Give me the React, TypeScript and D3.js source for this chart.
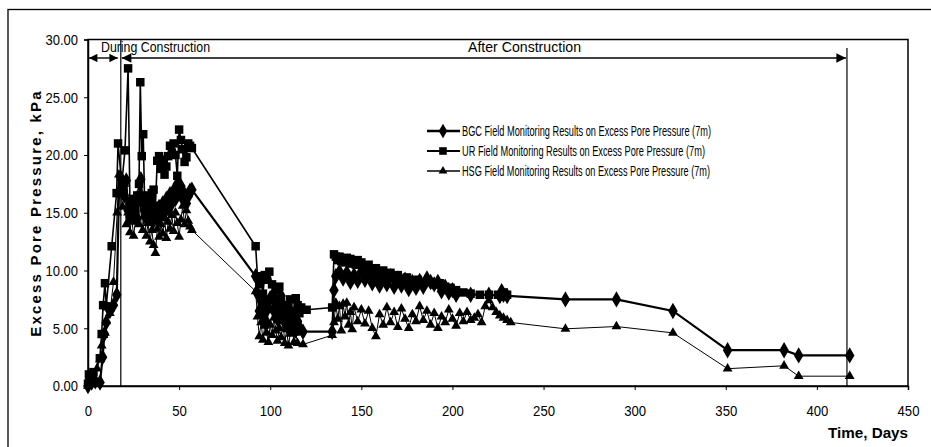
import React, { useEffect, useRef } from "react";
import * as d3 from "d3";

// [day, kPa] readings per gauge
const bgcData: [number, number][] = [
  [0, 0], [1, 0.6], [2, 0.3], [4, 0.4], [6.6, 0.3], [8, 2.5], [9, 4.5], [10, 5.5], [12, 6.5], [14, 7.0], [15.8, 7.9],
  [17, 16.8], [18, 18.0], [19, 17.2], [20, 16.5], [21, 17.8], [22, 15.2], [23, 14.6], [24, 15.4], [25, 14.8], [26, 15.9],
  [27, 14.5], [28, 16.2], [29, 17.9], [30, 16.0], [31, 15.2], [32, 14.5], [33, 15.5], [34, 14.8], [35, 15.6], [36, 14.3],
  [37, 15.0], [38, 14.4], [39, 15.5], [40, 14.8], [41, 15.8], [42, 15.0], [43, 16.2], [44, 15.4], [45, 16.6], [46, 15.8],
  [47, 16.9], [48, 16.2], [49, 17.5], [50, 16.8], [51, 17.3], [52, 16.2], [53, 16.6], [54, 15.8], [55, 16.4], [56, 16.9],
  [57, 17.0],
  [92, 9.5], [93, 8.0], [94, 6.5], [95, 7.4], [96, 6.0], [97, 7.2], [98, 5.5], [99, 6.8], [100, 7.6], [101, 7.7],
  [102, 6.5], [103, 7.2], [104, 5.8], [105, 6.9], [106, 7.8], [107, 6.3], [108, 5.5], [109, 6.6], [110, 5.0], [111, 6.2],
  [112, 5.4], [113, 6.0], [114, 4.8], [115, 5.6], [116, 5.1], [118, 4.7], [134, 4.7],
  [135, 8.3], [136, 9.5], [138, 9.9], [140, 9.3], [142, 9.8], [144, 9.0], [146, 9.6], [148, 9.1], [150, 9.9], [152, 9.2],
  [154, 9.7], [156, 8.9], [158, 9.5], [160, 8.7], [162, 9.4], [164, 8.8], [166, 9.5], [168, 8.6], [170, 9.3], [172, 8.7],
  [174, 9.2], [176, 8.4], [178, 9.0], [180, 8.5], [182, 9.1], [184, 8.6], [186, 9.3], [188, 9.0], [190, 8.8], [192, 9.0],
  [194, 8.2], [196, 8.6], [198, 8.1], [200, 8.3], [202, 7.9], [210, 7.9], [220, 7.9], [226, 7.8], [227, 8.2], [228, 7.9],
  [230, 7.8], [262, 7.5], [290, 7.5], [321, 6.5], [351, 3.1], [382, 3.1], [390, 2.65], [418, 2.65],
];

const urData: [number, number][] = [
  [0, 0.2], [0.5, 1.0], [1, 0.5], [3, 1.2], [6.5, 2.4], [7.5, 4.5], [8.3, 7.0], [9.3, 8.9], [10, 6.9], [13, 12.1],
  [15.7, 16.7], [16.5, 21.0], [18.5, 17.5], [20.3, 20.4], [22, 27.5], [23, 16.0], [24, 15.5], [25, 16.2], [26, 15.3],
  [27, 16.5], [28, 17.5], [28.7, 26.3], [29.5, 19.9], [30.3, 21.8], [31, 16.5], [32, 15.8], [33, 15.5], [34, 16.0],
  [35, 16.7], [36, 17.0], [37, 15.6], [38, 19.5], [39, 19.9], [40, 18.8], [41, 19.6], [42, 18.3], [43, 19.0], [44, 19.9],
  [45, 20.8], [46, 20.2], [47, 21.0], [48, 20.0], [49, 18.2], [50, 22.2], [51, 21.3], [52, 20.5], [53, 19.4], [54, 19.8],
  [55, 21.0], [56, 20.8], [57, 20.6],
  [92, 12.1], [93, 9.5], [94, 8.8], [95, 9.3], [96, 8.0], [97, 9.6], [98, 9.2], [99.5, 9.9], [101, 8.8], [102, 7.5],
  [103, 8.3], [104, 7.0], [105, 8.6], [106, 7.3], [107, 6.5], [108, 7.0], [109, 5.8], [110, 6.8], [111, 7.5], [112, 6.2],
  [113, 6.5], [114, 7.6], [115, 7.0], [116, 6.3], [117, 6.8], [120, 6.6], [134, 6.8],
  [135, 11.4], [136, 11.2], [137, 10.9], [138, 11.2], [139, 10.8], [140, 11.0], [141, 10.7], [142, 11.1], [143, 10.8],
  [144, 11.0], [145, 10.6], [146, 10.8], [147, 10.5], [148, 10.9], [149, 10.5], [150, 10.7], [152, 10.3], [154, 10.5],
  [156, 10.0], [158, 10.2], [160, 9.8], [162, 10.0], [164, 9.6], [166, 9.8], [168, 9.4], [170, 9.6], [172, 9.3],
  [175, 9.4], [178, 9.1], [181, 9.2], [184, 8.9], [187, 9.0], [190, 8.8], [193, 8.9], [196, 8.6], [199, 8.5], [202, 8.3],
  [206, 8.1], [210, 8.0], [215, 7.9], [220, 7.9], [225, 7.9], [228, 8.1], [230, 7.9],
];

const hsgData: [number, number][] = [
  [0, 0], [1, 0.3], [3, 0.8], [5, 1.5], [6.6, 2.3], [7.5, 3.5], [8.5, 4.4], [9.3, 4.6], [10, 5.6], [12, 6.3], [14, 9.0],
  [16, 15.0], [17, 18.3], [18, 16.6], [19, 15.5], [20, 17.5], [21, 14.0], [22, 15.0], [23, 13.3], [24, 14.6], [25, 13.0],
  [26, 14.2], [27, 16.5], [28, 14.0], [29, 15.8], [30, 13.5], [31, 14.8], [32, 13.0], [33, 14.1], [34, 12.5], [35, 13.5],
  [36, 12.2], [37, 11.5], [38, 13.6], [39, 12.9], [40, 14.0], [41, 13.2], [42, 14.5], [43, 12.8], [44, 14.2], [45, 13.6],
  [46, 14.8], [47, 13.4], [48, 15.0], [49, 14.1], [50, 12.9], [51, 14.4], [52, 15.6], [53, 14.0], [54, 15.2], [55, 14.3],
  [56, 13.8], [57, 13.5],
  [92, 8.2], [93, 6.0], [94, 4.3], [95, 5.5], [96, 4.0], [97, 5.2], [98, 4.6], [99, 3.8], [100, 5.3], [101, 4.4],
  [102, 5.9], [103, 4.8], [104, 3.9], [105, 5.0], [106, 4.2], [107, 5.6], [108, 3.7], [109, 4.9], [110, 3.5], [111, 4.5],
  [112, 5.2], [113, 3.8], [114, 4.6], [115, 3.7], [118, 3.6], [134, 4.4],
  [135, 5.5], [136, 7.2], [137, 5.8], [138, 6.9], [139, 4.8], [140, 7.1], [141, 6.0], [142, 7.2], [143, 5.3], [144, 6.4],
  [145, 4.9], [146, 6.8], [148, 5.6], [150, 6.6], [152, 5.4], [154, 6.5], [156, 5.0], [158, 4.3], [160, 6.2], [162, 5.3],
  [164, 6.8], [166, 5.5], [168, 6.4], [170, 5.1], [172, 6.7], [174, 5.8], [176, 5.0], [178, 6.2], [180, 5.6], [182, 6.9],
  [184, 5.7], [186, 6.5], [188, 5.3], [190, 6.3], [192, 5.0], [194, 6.0], [196, 5.5], [198, 6.6], [200, 5.8], [202, 5.2],
  [204, 6.3], [206, 5.6], [208, 6.4], [210, 5.7], [212, 5.9], [214, 6.2], [216, 5.5], [218, 6.9], [220, 7.4], [222, 6.8],
  [224, 6.4], [226, 6.1], [228, 5.9], [230, 5.7], [232, 5.5], [262, 4.95], [290, 5.15], [321, 4.6], [351, 1.5],
  [382, 1.75], [390, 0.85], [418, 0.85],
];

const xTicks = [0, 50, 100, 150, 200, 250, 300, 350, 400, 450];
const yTicks = [0, 5, 10, 15, 20, 25, 30];
const legendLabels = [
  "BGC Field Monitoring Results on Excess Pore Pressure (7m)",
  "UR Field Monitoring Results on Excess Pore Pressure (7m)",
  "HSG Field Monitoring Results on Excess Pore Pressure (7m)",
];
const constructionEnd = 18;
const monitoringEnd = 416.5;

const W = 931;
const H = 447;
const sans = "'Liberation Sans', Arial, sans-serif";

// squeeze a label to the narrow look of the original
const narrowWidth = (s: string) =>
  s.split("").reduce((w, c) => w + (c === "." ? 3.4 : 7.3), 0);

export default function App() {
  const ref = useRef<SVGSVGElement>(null);

  useEffect(() => {
    const svg = d3.select(ref.current);
    svg.selectAll("*").remove();

    const x = d3.scaleLinear().domain([0, 450]).range([88, 908]);
    const y = d3.scaleLinear().domain([0, 30]).range([386, 39.5]);

    // outer frame
    svg.append("rect").attr("x", 8).attr("y", 9.5).attr("width", 940).attr("height", 460)
      .attr("fill", "none").attr("stroke", "#000").attr("stroke-width", 1.3);

    // plot frame
    svg.append("rect").attr("x", x(0)).attr("y", y(30)).attr("width", x(450) - x(0)).attr("height", y(0) - y(30))
      .attr("fill", "none").attr("stroke", "#000").attr("stroke-width", 1.5);

    // axes
    const xAxis = svg.append("g").attr("transform", `translate(0,${y(0)})`)
      .call(d3.axisBottom(x).tickValues(xTicks).tickSize(4).tickPadding(15).tickFormat(d3.format("d")));
    const yAxis = svg.append("g").attr("transform", `translate(${x(0)},0)`)
      .call(d3.axisLeft(y).tickValues(yTicks).tickSize(4).tickPadding(6).tickFormat(d3.format(".2f")));
    [xAxis, yAxis].forEach((g) => {
      g.select(".domain").attr("stroke-width", 1.5);
      g.selectAll<SVGTextElement, number>("text")
        .attr("font-family", sans).attr("font-size", 15).attr("fill", "#000")
        .attr("lengthAdjust", "spacingAndGlyphs")
        .attr("textLength", function () { return narrowWidth(this.textContent || ""); });
    });

    // construction phase markers
    const defs = svg.append("defs");
    defs.append("marker").attr("id", "ah").attr("viewBox", "0 0 10 10").attr("refX", 10).attr("refY", 5)
      .attr("markerWidth", 7).attr("markerHeight", 6).attr("orient", "auto-start-reverse")
      .append("path").attr("d", "M0,0 L10,5 L0,10 z").attr("fill", "#000");

    svg.append("line").attr("x1", x(constructionEnd)).attr("x2", x(constructionEnd))
      .attr("y1", y(30)).attr("y2", y(0)).attr("stroke", "#000").attr("stroke-width", 1.2);
    svg.append("line").attr("x1", x(monitoringEnd)).attr("x2", x(monitoringEnd))
      .attr("y1", 48).attr("y2", y(0)).attr("stroke", "#000").attr("stroke-width", 1.2);

    svg.append("line").attr("x1", x(0) + 1).attr("x2", x(constructionEnd) - 3).attr("y1", 58).attr("y2", 58)
      .attr("stroke", "#000").attr("stroke-width", 1.4)
      .attr("marker-start", "url(#ah)").attr("marker-end", "url(#ah)");
    svg.append("line").attr("x1", x(constructionEnd) + 1).attr("x2", x(monitoringEnd) - 1).attr("y1", 58).attr("y2", 58)
      .attr("stroke", "#000").attr("stroke-width", 1.6)
      .attr("marker-start", "url(#ah)").attr("marker-end", "url(#ah)");

    svg.append("text").attr("x", 101).attr("y", 52).attr("font-family", sans).attr("font-size", 14)
      .attr("textLength", 109).attr("lengthAdjust", "spacingAndGlyphs").text("During Construction");
    svg.append("text").attr("x", 468).attr("y", 52).attr("font-family", sans).attr("font-size", 14)
      .attr("textLength", 113).attr("lengthAdjust", "spacingAndGlyphs").text("After Construction");

    // series
    const series = [
      { data: hsgData, width: 1, symbol: d3.symbolTriangle, size: 42 },
      { data: urData, width: 1.6, symbol: d3.symbolSquare, size: 72 },
      { data: bgcData, width: 2.2, symbol: d3.symbolDiamond, size: 78 },
    ];
    const line = d3.line<[number, number]>().x((d) => x(d[0])).y((d) => y(d[1]));
    series.forEach((s) => {
      svg.append("path").datum(s.data).attr("d", line).attr("fill", "none")
        .attr("stroke", "#000").attr("stroke-width", s.width);
      svg.append("g").selectAll("path").data(s.data).enter().append("path")
        .attr("d", d3.symbol().type(s.symbol).size(s.size)())
        .attr("transform", (d) => `translate(${x(d[0])},${y(d[1])})`)
        .attr("fill", "#000");
    });

    // legend
    const legendSeries = [series[2], series[1], series[0]];
    const legendWidths = [249, 243, 248];
    legendSeries.forEach((s, i) => {
      const ly = 131 + i * 20;
      svg.append("line").attr("x1", 427).attr("x2", 460).attr("y1", ly).attr("y2", ly)
        .attr("stroke", "#000").attr("stroke-width", s.width + 0.4);
      svg.append("path").attr("d", d3.symbol().type(s.symbol).size(s.size * 0.8)())
        .attr("transform", `translate(443,${ly})`).attr("fill", "#000");
      svg.append("text").attr("x", 462).attr("y", ly + 5).attr("font-family", sans).attr("font-size", 14)
        .attr("textLength", legendWidths[i]).attr("lengthAdjust", "spacingAndGlyphs").text(legendLabels[i]);
    });

    // axis titles
    svg.append("text").attr("transform", "translate(41,213) rotate(-90)").attr("text-anchor", "middle")
      .attr("font-family", sans).attr("font-weight", "bold").attr("font-size", 15)
      .attr("letter-spacing", 2.2).text("Excess Pore Pressure, kPa");
    svg.append("text").attr("x", 908).attr("y", 438).attr("text-anchor", "end")
      .attr("font-family", sans).attr("font-weight", "bold").attr("font-size", 15)
      .attr("textLength", 80).attr("lengthAdjust", "spacingAndGlyphs").text("Time, Days");
  }, []);

  return (
    <svg ref={ref} width={W} height={H}
      style={{ position: "fixed", left: 0, top: 0, background: "#fff" }} />
  );
}
